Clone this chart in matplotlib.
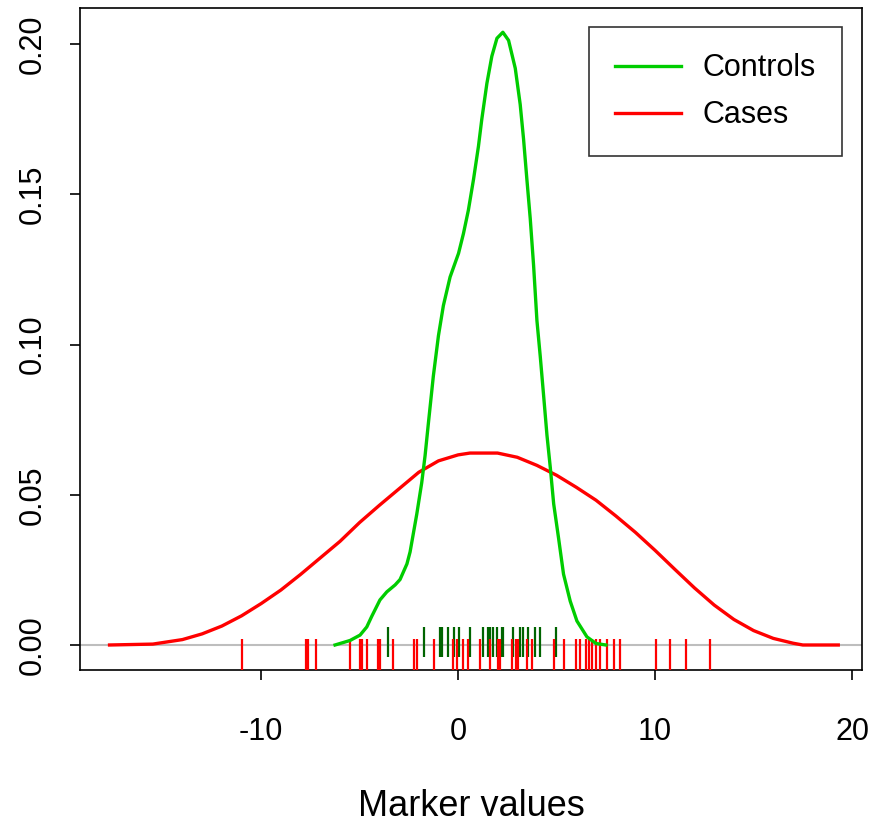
import numpy as np
import matplotlib.pyplot as plt

plt.rcParams['font.family'] = ['Liberation Sans', 'DejaVu Sans']

# density curves
cases_x = [-17.7, -15.5, -14.0, -13.0, -12.0, -11.0, -10.0, -9.0, -8.0, -7.0, -6.0,
           -5.0, -4.0, -3.0, -2.0, -1.0, 0.0, 0.6, 2.0, 3.0, 4.0, 5.0, 6.0, 7.0,
           8.0, 9.0, 10.0, 11.0, 12.0, 13.0, 14.0, 15.0, 16.0, 17.0, 17.5, 19.3]
cases_y = [0.0, 0.0003, 0.0018, 0.0037, 0.0063, 0.0097, 0.0138, 0.0183, 0.0235, 0.029,
           0.0345, 0.0408, 0.0465, 0.052, 0.0575, 0.0613, 0.0633, 0.0639, 0.0639, 0.0625,
           0.0598, 0.0565, 0.0525, 0.0482, 0.043, 0.0375, 0.0315, 0.0252, 0.019, 0.0133,
           0.0085, 0.0048, 0.0022, 0.0006, 0.0, 0.0]

controls_x = [-6.25, -5.49, -4.98, -4.64, -4.39, -3.97, -3.62, -3.2, -2.95, -2.6, -2.44,
              -2.1, -1.85, -1.68, -1.51, -1.26, -1.0, -0.75, -0.41, 0.02, 0.27, 0.52,
              0.78, 1.03, 1.2, 1.46, 1.71, 1.97, 2.27, 2.56, 2.9, 3.15, 3.32, 3.49, 3.66,
              3.83, 4.0, 4.17, 4.34, 4.51, 4.68, 4.85, 5.1, 5.35, 5.69, 6.03, 6.54, 7.0, 7.5]
controls_y = [0.0, 0.0015, 0.0033, 0.006, 0.0095, 0.015, 0.0177, 0.020, 0.0218, 0.027,
              0.031, 0.0436, 0.054, 0.063, 0.0739, 0.0895, 0.103, 0.113, 0.1225, 0.1304,
              0.137, 0.1448, 0.155, 0.166, 0.175, 0.187, 0.196, 0.202, 0.204, 0.2013,
              0.192, 0.180, 0.1685, 0.155, 0.142, 0.1264, 0.108, 0.096, 0.083, 0.0698,
              0.059, 0.047, 0.0355, 0.0236, 0.0146, 0.008, 0.0027, 0.0005, 0.0]

# rug values
cases_rug = [-10.98, -7.73, -7.63, -7.22, -5.49, -4.98, -4.88, -4.63, -4.07, -3.97, -3.30,
             -2.24, -2.08, -1.22, -0.25, -0.05, 0.25, 0.51, 1.12, 1.63, 2.03, 2.14, 2.75,
             2.95, 3.05, 3.51, 3.76, 4.88, 5.39, 6.00, 6.20, 6.51, 6.66, 6.81, 7.02, 7.22,
             7.58, 7.93, 8.24, 10.07, 10.78, 11.59, 12.81]
controls_rug = [-3.56, -1.73, -0.92, -0.81, -0.51, -0.20, 0.05, 0.61, 1.27, 1.53, 1.63,
                1.78, 1.98, 2.24, 2.29, 2.80, 3.15, 3.30, 3.56, 3.91, 4.17, 4.98]

xticks = [-10, 0, 10, 20]
yticks = [0.0, 0.05, 0.10, 0.15, 0.20]

fig = plt.figure(figsize=(8.84, 8.23), dpi=100)
ax = fig.add_axes([0.0905, 0.186, 0.8845, 0.804])

ax.axhline(0, color='#BEBEBE', lw=1.5, zorder=1)
ax.vlines(controls_rug, -0.004, 0.006, color='#006400', lw=1.6, zorder=2)
ax.vlines(cases_rug, -0.0083, 0.002, color='#FF0000', lw=1.6, zorder=3)
ax.plot(cases_x, cases_y, color='#FF0000', lw=2.4, label='Cases', zorder=4)
ax.plot(controls_x, controls_y, color='#00CD00', lw=2.4, label='Controls', zorder=5)

ax.set_xlim(-19.2, 20.5)
ax.set_ylim(-0.0083, 0.212)
ax.set_xticks(xticks)
ax.set_xticklabels([str(t) for t in xticks])
ax.set_yticks(yticks)
ax.set_yticklabels(['%.2f' % t for t in yticks], rotation=90, va='center')
ax.tick_params(axis='both', labelsize=22, length=7, width=1.2, direction='out')
ax.tick_params(axis='x', pad=27)
ax.tick_params(axis='y', pad=16)
for s in ax.spines.values():
    s.set_linewidth(1.2)
ax.set_xlabel('Marker values', fontsize=26, labelpad=30)

h, l = ax.get_legend_handles_labels()
leg = ax.legend(h[::-1], l[::-1], loc='upper right', bbox_to_anchor=(0.974, 0.971),
                borderaxespad=0, fontsize=22, frameon=True, fancybox=False,
                edgecolor='black', handlelength=2.15, handletextpad=0.7,
                borderpad=0.85, labelspacing=0.55)
leg.get_frame().set_linewidth(1.2)

plt.savefig('out.png', dpi=100)
